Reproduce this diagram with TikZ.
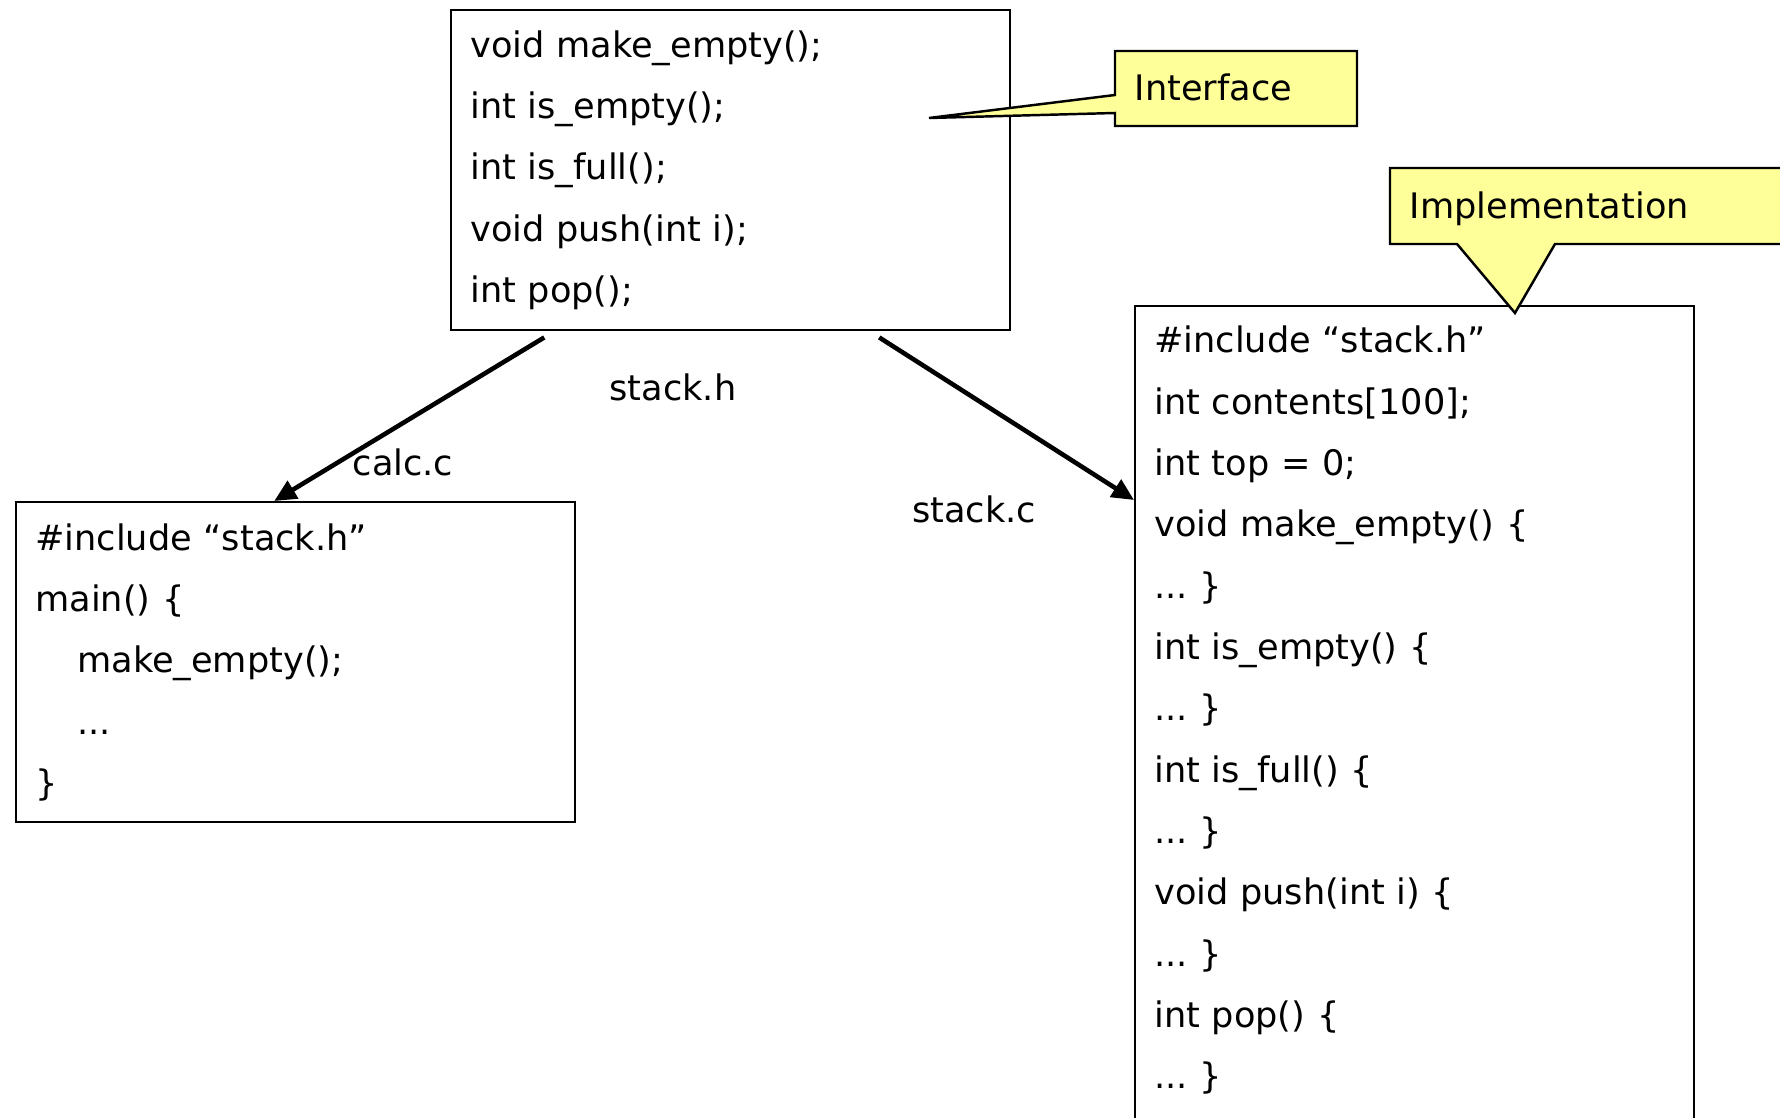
\documentclass[tikz,border=0pt]{standalone}
\usepackage{fontspec}
\setmainfont{DejaVu Sans}
\usetikzlibrary{arrows.meta,calc}
\definecolor{notefill}{HTML}{FFFF99}
\frenchspacing
\newcommand\codefont{\fontsize{10}{17.45}\selectfont}
\tikzset{
  codebox/.style={draw, line width=0.7pt, minimum width=5.59cm, text width=5.21cm,
    inner xsep=0.19cm, inner ysep=0.2cm, align=left, font=\codefont},
  flow/.style={line width=1.3pt, -{Triangle[length=0.22cm,width=0.2cm]}},
  note/.style={font=\codefont, inner xsep=0.19cm}
}
\begin{document}
\begin{tikzpicture}
\clip (0,0) rectangle (17.8,-11.18);

\node[codebox, minimum height=3.2cm, anchor=north west] (hdr) at (4.50,-0.09)
  {void make\_empty();\\ int is\_empty();\\ int is\_full();\\ void push(int i);\\ int pop();};

\node[codebox, minimum height=3.2cm, anchor=north west] (calcbox) at (0.15,-5.01)
  {\#include “stack.h”\\ main() \{\\ \hspace*{0.42cm}make\_empty();\\ \hspace*{0.42cm}...\\ \}};

\node[codebox, text depth=7.9cm, anchor=north west] (implbox) at (11.34,-3.05)
  {\#include “stack.h”\\ int contents[100];\\ int top = 0;\\ void make\_empty() \{\\ ... \}\\
   int is\_empty() \{\\ ... \}\\ int is\_full() \{\\ ... \}\\ void push(int i) \{\\ ... \}\\
   int pop() \{\\ ... \}};

\draw[flow] ($(hdr.south)+(-1.865,-0.06)$) -- ($(calcbox.north)+(-0.215,0)$);
\draw[flow] ($(hdr.south)+(1.485,-0.06)$) -- ($(implbox.north west)+(0,-1.95)$);

\node[note, anchor=base] (hname) at (6.73,-4.01) {stack.h};
\node[note, anchor=base] (cname) at (4.03,-4.76) {calc.c};
\node[note, anchor=base] (iname) at (9.74,-5.23) {stack.c};

\draw[line width=0.7pt, fill=notefill] (11.15,-0.51) -- (13.57,-0.51) -- (13.57,-1.26)
  -- (11.15,-1.26) -- (11.15,-1.13) -- (9.29,-1.18) -- (11.15,-0.95) -- cycle;
\node[note, anchor=base west] (iface) at (11.15,-1.01) {Interface};

\draw[line width=0.7pt, fill=notefill] (18.0,-1.68) -- (13.90,-1.68) -- (13.90,-2.44)
  -- (14.57,-2.44) -- (15.15,-3.13) -- (15.55,-2.44) -- (18.0,-2.44);
\node[note, anchor=base west] (impl) at (13.90,-2.19) {Implementation};
\end{tikzpicture}
\end{document}
